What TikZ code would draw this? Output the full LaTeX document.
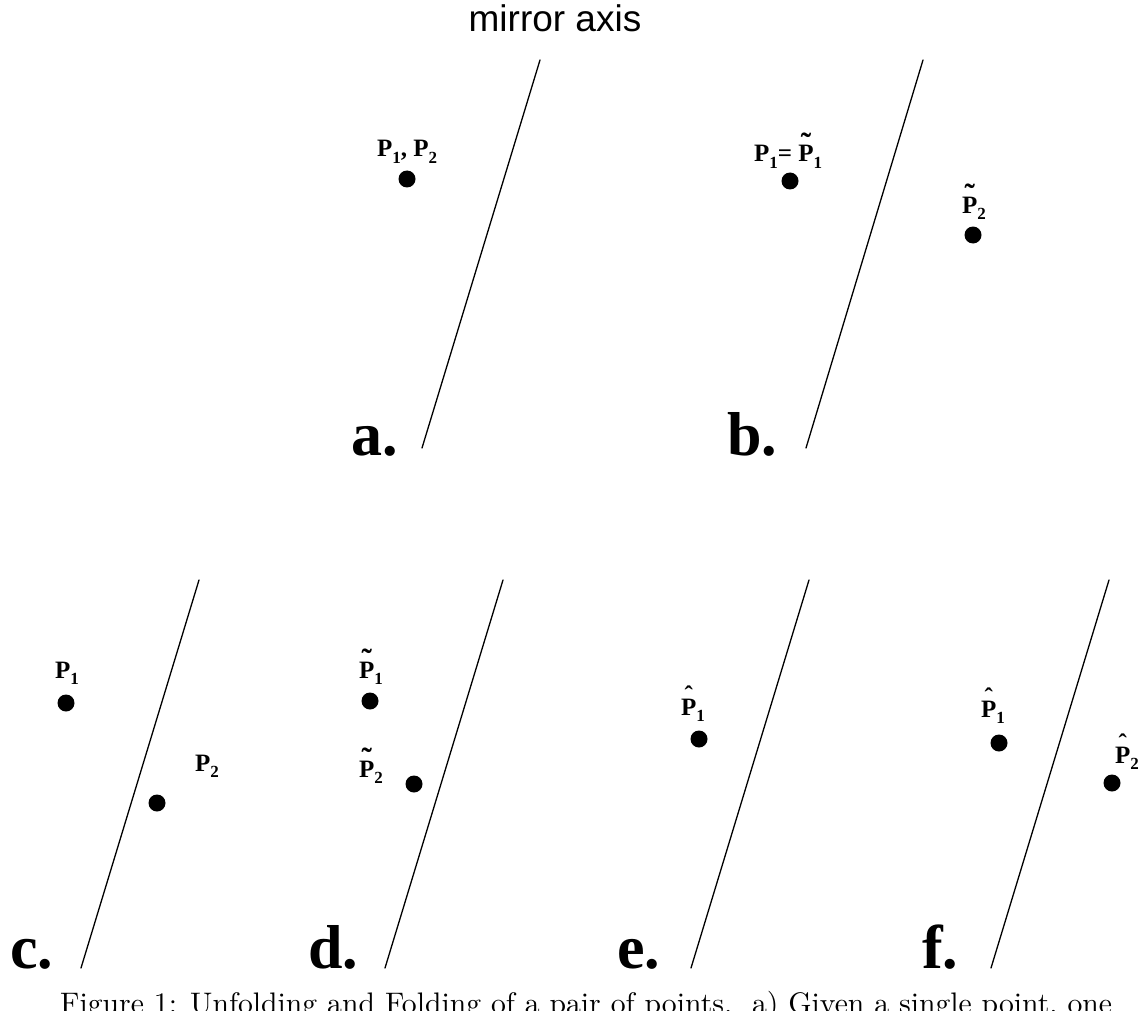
\documentclass[tikz,border=0pt]{standalone}
\usepackage{fontspec}
\newfontfamily\tfont{Liberation Serif}
\newfontfamily\sfont{Liberation Sans}
\newfontfamily\capfont{lmroman10-regular}[Extension=.otf]
\newcommand\sbs[1]{\raisebox{-0.27em}{\fontsize{17}{17}\selectfont #1}}
\newcommand\tlP{\ooalign{P\cr\hidewidth\raisebox{0.3em}{\fontsize{31}{31}\selectfont\char"02DC}\hidewidth\cr}}
\newcommand\htP{\ooalign{P\cr\hidewidth\raisebox{0.45em}{\char"02C6}\hidewidth\cr}}
\tikzset{
  dot/.style={circle,fill=black,inner sep=0pt,minimum size=17pt},
  mirror/.style={line width=1.3pt,line cap=round},
  plabel/.style={anchor=base west,inner sep=0pt,font=\tfont\bfseries\fontsize{25}{25}\selectfont},
  panel/.style={anchor=base west,inner sep=0pt,font=\tfont\bfseries\fontsize{62}{62}\selectfont}
}
\begin{document}
\begin{tikzpicture}[x=1pt,y=-1pt]
\useasboundingbox[fill=white] (0,0) rectangle (1145,1011);
% title
\node[anchor=base,inner sep=0pt,font=\sfont\fontsize{37}{37}\selectfont] (title) at (555,32) {mirror axis};
% mirror axes
\coordinate (at) at (540,60);  \coordinate (ab) at (422,448);
\coordinate (bt) at (923,60);  \coordinate (bb) at (806,448);
\coordinate (ct) at (199,580); \coordinate (cb) at (81,968);
\coordinate (dt) at (503,580); \coordinate (db) at (385,968);
\coordinate (et) at (809,580); \coordinate (eb) at (691,968);
\coordinate (ft) at (1109,580);\coordinate (fb) at (991,968);
\foreach \p in {a,b,c,d,e,f} {\draw[mirror] (\p t) -- (\p b);}
% panel letters
\node[panel] (la) at (351,455) {a.};
\node[panel] (lb) at (727,455) {b.};
\node[panel] (lc) at (10,968) {c.};
\node[panel] (ld) at (308,968) {d.};
\node[panel] (le) at (617,968) {e.};
\node[panel] (lf) at (922,968) {f.};
% panel a
\node[dot] (a1) at (407,179) {};
\node[plabel] (a1l) at (377,157) {P\sbs{1}, P\sbs{2}};
% panel b
\node[dot] (b1) at (790,181) {};
\node[plabel] (b1l) at (754,162) {P\sbs{1}= \tlP\sbs{1}};
\node[dot] (b2) at (973,235) {};
\node[plabel] (b2l) at (962,213) {\tlP\sbs{2}};
% panel c
\node[dot] (c1) at (66,703) {};
\node[plabel] (c1l) at (55,678) {P\sbs{1}};
\node[dot] (c2) at (157,803) {};
\node[plabel] (c2l) at (195,771) {P\sbs{2}};
% panel d
\node[dot] (d1) at (370,701) {};
\node[plabel] (d1l) at (359,678) {\tlP\sbs{1}};
\node[dot] (d2) at (414,784) {};
\node[plabel] (d2l) at (359,777) {\tlP\sbs{2}};
% panel e
\node[dot] (e1) at (699,739) {};
\node[plabel] (e1l) at (681,715) {\htP\sbs{1}};
% panel f
\node[dot] (f1) at (999,743) {};
\node[plabel] (f1l) at (981,717) {\htP\sbs{1}};
\node[dot] (f2) at (1112,783) {};
\node[plabel] (f2l) at (1115,763) {\htP\sbs{2}};
% caption (cut off at the bottom)
\node[anchor=base west,inner sep=0pt,font=\capfont\fontsize{29.7}{29.7}\selectfont] (cap) at (60,1013) {Figure 1: Unfolding and Folding of a pair of points.\ \ a) Given a single point, one};
\end{tikzpicture}
\end{document}
